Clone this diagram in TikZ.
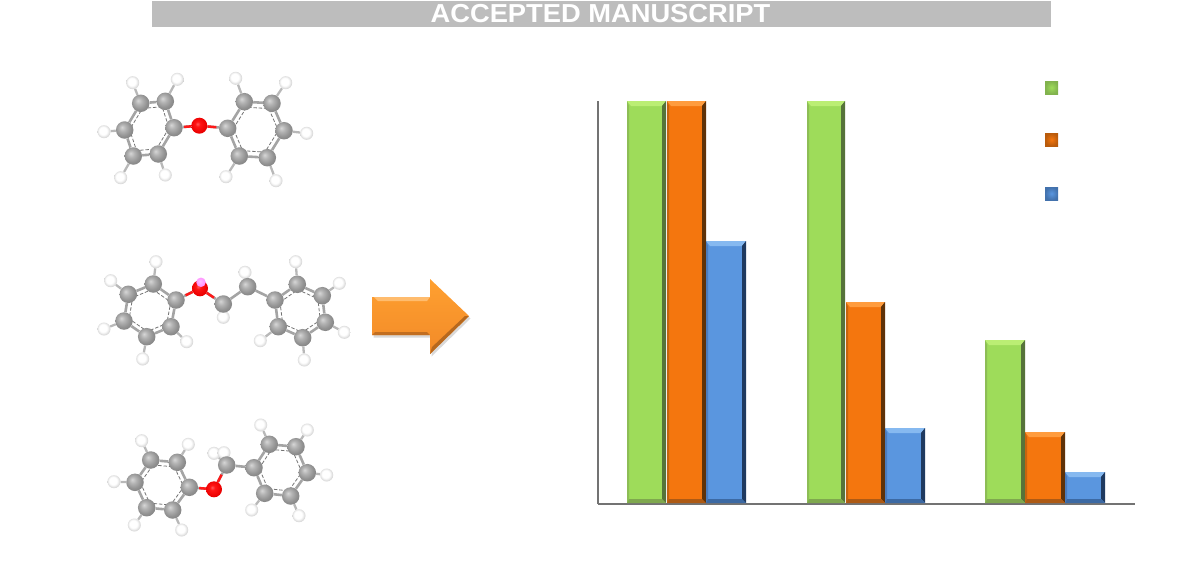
\documentclass[tikz,border=0pt]{standalone}
\usepackage{fontspec}
\setmainfont{Liberation Sans}
\usetikzlibrary{backgrounds,calc,shadows}

\definecolor{greenmain}{HTML}{9EDC5A}
\definecolor{greenlight}{HTML}{BBEE74}
\definecolor{greenside}{HTML}{56733A}
\definecolor{greenlow}{HTML}{7FA84E}
\definecolor{greenedge}{HTML}{8DBD56}
\definecolor{orangemain}{HTML}{F4760E}
\definecolor{orangelight}{HTML}{FF9C3E}
\definecolor{orangeside}{HTML}{5F3208}
\definecolor{orangelow}{HTML}{AD5A14}
\definecolor{orangeedge}{HTML}{C4640F}
\definecolor{bluemain}{HTML}{5A96DF}
\definecolor{bluelight}{HTML}{86B9F0}
\definecolor{blueside}{HTML}{1F3A60}
\definecolor{bluelow}{HTML}{3C69A3}
\definecolor{blueedge}{HTML}{4B7CBD}
\definecolor{bannergray}{HTML}{BDBDBD}
\definecolor{bondgray}{HTML}{A4A4A4}
\definecolor{arrowtop}{HTML}{FFA030}
\definecolor{arrowlow}{HTML}{F28A28}

\pgfdeclareradialshading{carbonball}{\pgfpoint{-8bp}{8bp}}{color(0bp)=(black!16); color(10bp)=(black!30); color(22bp)=(black!43); color(35bp)=(black!52); color(50bp)=(black!58)}
\pgfdeclareradialshading{hydrogenball}{\pgfpoint{-5bp}{5bp}}{color(0bp)=(white); color(15bp)=(white); color(25bp)=(black!15); color(33bp)=(black!34); color(50bp)=(black!40)}
\pgfdeclareradialshading{oxygenball}{\pgfpoint{-6bp}{6bp}}{color(0bp)=(red!65!white); color(8bp)=(red!92!white); color(25bp)=(red!92!black); color(35bp)=(red!75!black); color(50bp)=(red!65!black)}
\pgfdeclareradialshading{pinkball}{\pgfpoint{-6bp}{6bp}}{color(0bp)=(magenta!25!white); color(20bp)=(magenta!40!white); color(50bp)=(magenta!55!white)}

\tikzset{
  carbon/.style={circle,inner sep=0pt,minimum size=17.5pt,shade,shading=carbonball},
  hydrogen/.style={circle,inner sep=0pt,minimum size=13pt,shade,shading=hydrogenball},
  oxygen/.style={circle,inner sep=0pt,minimum size=16pt,shade,shading=oxygenball},
  pinkatom/.style={circle,inner sep=0pt,minimum size=9.5pt,shade,shading=pinkball},
  bondline/.style={draw=bondgray,line width=2.6pt},
  hbondline/.style={draw=black!28,line width=2.3pt},
  obondline/.style={draw=red!90,line width=2.5pt},
  innerring/.style={draw=black!55,line width=0.8pt,dash pattern=on 3.5pt off 1.8pt},
  axisline/.style={draw=black!55,line width=1.1pt}
}

\newcommand{\ringbonds}[6]{
\draw [bondline] (#1) -- (#2) -- (#3) -- (#4) -- (#5) -- (#6) -- (#1);
\coordinate (rc) at (barycentric cs:#1=1,#2=1,#3=1,#4=1,#5=1,#6=1);
\draw [innerring] ($(#1)!0.2!(rc)$) -- ($(#2)!0.2!(rc)$) -- ($(#3)!0.2!(rc)$) -- ($(#4)!0.2!(rc)$) -- ($(#5)!0.2!(rc)$) -- ($(#6)!0.2!(rc)$) -- cycle;
}

% x0, top, x1, bottom, colour name
\newcommand{\bevelbox}[6][4]{
\fill [#6main] (#2,#3) rectangle (#4,#5);
\fill [#6light] (#2,#3) -- (#4,#3) -- (#4-#1,#3+#1+1) -- (#2+#1,#3+#1+1) -- cycle;
\fill [#6edge] (#2,#3) -- (#2+#1*0.5,#3+#1+1) -- (#2+#1*0.5,#5-#1) -- (#2,#5) -- cycle;
\fill [#6side] (#4,#3) -- (#4-#1,#3+#1+1) -- (#4-#1,#5-#1) -- (#4,#5) -- cycle;
\fill [#6low] (#2,#5) -- (#2+#1*0.5,#5-#1) -- (#4-#1,#5-#1) -- (#4,#5) -- cycle;
}

\newcommand{\legendbox}[3]{
\fill [inner color=#3main,outer color=#3side!40!#3main] (#1,#2) rectangle (#1+13,#2+13);
}

\begin{document}
\begin{tikzpicture}[x=1pt,y=-1pt]
\useasboundingbox (0,0) rectangle (1203,587);

\fill [bannergray] (152,1) rectangle (1051,27);
\node (bannertext) at (600.5,14) [text=white,font=\bfseries\fontsize{26}{26}\selectfont,inner sep=0pt,xscale=1.05,transform shape] {ACCEPTED MANUSCRIPT};

\node [carbon] (a1) at (140.7,103.3) {};
\node [carbon] (a2) at (165.3,101.3) {};
\node [carbon] (a3) at (174,127.7) {};
\node [carbon] (a4) at (158.3,154) {};
\node [carbon] (a5) at (133.3,156) {};
\node [carbon] (a6) at (124.7,130) {};
\node [hydrogen] (ah1) at (132.7,82.7) {};
\node [hydrogen] (ah2) at (177.3,79.3) {};
\node [hydrogen] (ah4) at (165.3,175) {};
\node [hydrogen] (ah5) at (120.7,177.7) {};
\node [hydrogen] (ah6) at (104,131.7) {};
\node [oxygen] (ao) at (199.3,125.7) {};
\node [carbon] (b1) at (227.7,128.3) {};
\node [carbon] (b2) at (244.3,101.7) {};
\node [carbon] (b3) at (272,103.3) {};
\node [carbon] (b4) at (284,130.7) {};
\node [carbon] (b5) at (267.3,157.7) {};
\node [carbon] (b6) at (239.3,156) {};
\node [hydrogen] (bh2) at (235.7,78.3) {};
\node [hydrogen] (bh3) at (285.7,82.7) {};
\node [hydrogen] (bh4) at (306.7,133.3) {};
\node [hydrogen] (bh5) at (276,180.7) {};
\node [hydrogen] (bh6) at (226,176.7) {};

\node [carbon] (c1) at (153.3,284) {};
\node [carbon] (c2) at (176,300) {};
\node [carbon] (c3) at (171,326.7) {};
\node [carbon] (c4) at (146.7,336.7) {};
\node [carbon] (c5) at (124,321) {};
\node [carbon] (c6) at (128.3,294.3) {};
\node [hydrogen] (ch1) at (156,261.7) {};
\node [hydrogen] (ch3) at (186.7,341.7) {};
\node [hydrogen] (ch4) at (142.7,359) {};
\node [hydrogen] (ch5) at (104,329) {};
\node [hydrogen] (ch6) at (110.7,280.7) {};
\node [oxygen] (co) at (200,288.3) {};
\node [pinkatom] (cp) at (201,282.3) {};
\node [hydrogen] (eh1) at (223.3,317.3) {};
\node [carbon] (e1) at (223.3,304) {};
\node [hydrogen] (eh2) at (245,272.3) {};
\node [carbon] (e2) at (247.7,286.7) {};
\node [carbon] (d1) at (275,300) {};
\node [carbon] (d2) at (297.3,284.3) {};
\node [carbon] (d3) at (322.3,295.7) {};
\node [carbon] (d4) at (325.3,322.3) {};
\node [carbon] (d5) at (302.7,337.7) {};
\node [carbon] (d6) at (278.3,326.7) {};
\node [hydrogen] (dh2) at (295.7,261.7) {};
\node [hydrogen] (dh3) at (339.3,283.3) {};
\node [hydrogen] (dh4) at (344.3,332.3) {};
\node [hydrogen] (dh5) at (304.3,360) {};
\node [hydrogen] (dh6) at (260.3,340.7) {};

\node [carbon] (f1) at (150.7,460) {};
\node [carbon] (f2) at (177.3,462.3) {};
\node [carbon] (f3) at (189.3,487.3) {};
\node [carbon] (f4) at (172.7,510) {};
\node [carbon] (f5) at (146.7,507.7) {};
\node [carbon] (f6) at (135,482.3) {};
\node [hydrogen] (fh1) at (141.7,440.7) {};
\node [hydrogen] (fh2) at (188.3,444.3) {};
\node [hydrogen] (fh4) at (181.7,530) {};
\node [hydrogen] (fh5) at (134.3,525) {};
\node [hydrogen] (fh6) at (114,481.7) {};
\node [oxygen] (fo) at (214,489.3) {};
\node [hydrogen] (kh1) at (214,453.3) {};
\node [hydrogen] (kh2) at (224,452.7) {};
\node [carbon] (k1) at (226.7,465) {};
\node [carbon] (g1) at (254,467.7) {};
\node [carbon] (g2) at (269.3,444.3) {};
\node [carbon] (g3) at (296,446.7) {};
\node [carbon] (g4) at (307.3,472.7) {};
\node [carbon] (g5) at (290.7,496) {};
\node [carbon] (g6) at (264.7,493.3) {};
\node [hydrogen] (gh2) at (260.7,425) {};
\node [hydrogen] (gh3) at (307.3,430) {};
\node [hydrogen] (gh4) at (326.7,475) {};
\node [hydrogen] (gh5) at (299,515.7) {};
\node [hydrogen] (gh6) at (251.7,510) {};

\begin{scope}[on background layer]
\ringbonds{a1}{a2}{a3}{a4}{a5}{a6}
\ringbonds{b1}{b2}{b3}{b4}{b5}{b6}
\ringbonds{c1}{c2}{c3}{c4}{c5}{c6}
\ringbonds{d1}{d2}{d3}{d4}{d5}{d6}
\ringbonds{f1}{f2}{f3}{f4}{f5}{f6}
\ringbonds{g1}{g2}{g3}{g4}{g5}{g6}
\draw [hbondline] (a1) -- (ah1);
\draw [hbondline] (a2) -- (ah2);
\draw [hbondline] (a4) -- (ah4);
\draw [hbondline] (a5) -- (ah5);
\draw [hbondline] (a6) -- (ah6);
\draw [hbondline] (b2) -- (bh2);
\draw [hbondline] (b3) -- (bh3);
\draw [hbondline] (b4) -- (bh4);
\draw [hbondline] (b5) -- (bh5);
\draw [hbondline] (b6) -- (bh6);
\draw [hbondline] (c1) -- (ch1);
\draw [hbondline] (c3) -- (ch3);
\draw [hbondline] (c4) -- (ch4);
\draw [hbondline] (c5) -- (ch5);
\draw [hbondline] (c6) -- (ch6);
\draw [hbondline] (d2) -- (dh2);
\draw [hbondline] (d3) -- (dh3);
\draw [hbondline] (d4) -- (dh4);
\draw [hbondline] (d5) -- (dh5);
\draw [hbondline] (d6) -- (dh6);
\draw [hbondline] (f1) -- (fh1);
\draw [hbondline] (f2) -- (fh2);
\draw [hbondline] (f4) -- (fh4);
\draw [hbondline] (f5) -- (fh5);
\draw [hbondline] (f6) -- (fh6);
\draw [hbondline] (g2) -- (gh2);
\draw [hbondline] (g3) -- (gh3);
\draw [hbondline] (g4) -- (gh4);
\draw [hbondline] (g5) -- (gh5);
\draw [hbondline] (g6) -- (gh6);
\draw [hbondline] (e1) -- (eh1);
\draw [hbondline] (e2) -- (eh2);
\draw [hbondline] (k1) -- (kh1);
\draw [hbondline] (k1) -- (kh2);
\draw [bondline] (e1) -- (e2);
\draw [bondline] (e2) -- (d1);
\draw [bondline] (k1) -- (g1);
\draw [bondline] (a3) -- (ao);
\draw [bondline] (ao) -- (b1);
\draw [bondline] (c2) -- (co);
\draw [bondline] (co) -- (e1);
\draw [bondline] (f3) -- (fo);
\draw [bondline] (fo) -- (k1);
\draw [obondline] (ao) -- ($(ao)!0.6!(a3)$);
\draw [obondline] (ao) -- ($(ao)!0.6!(b1)$);
\draw [obondline] (co) -- ($(co)!0.6!(c2)$);
\draw [obondline] (co) -- ($(co)!0.6!(e1)$);
\draw [obondline] (fo) -- ($(fo)!0.6!(f3)$);
\draw [obondline] (fo) -- ($(fo)!0.6!(k1)$);
\end{scope}

\draw [top color=arrowtop,bottom color=arrowlow,draw=none,drop shadow={shadow xshift=1.5pt,shadow yshift=-2.5pt,opacity=0.3}] (372,297) -- (430,297) -- (430,279) -- (469,316) -- (430,354) -- (430,335) -- (372,335) -- cycle;
\fill [arrowtop!70!white] (374,297) -- (430,297) -- (427,301) -- (378,301) -- cycle;
\fill [arrowlow!80!black] (372,335) -- (430,335) -- (427,332) -- (375,332) -- cycle;
\fill [arrowlow!75!black] (430,354) -- (469,316) -- (465,316) -- (432,347) -- cycle;

\draw [axisline] (598,101) -- (598,504);
\draw [axisline] (598,504) -- (1135,504);

\bevelbox{627}{101}{666}{503}{green}
\bevelbox{667}{101}{706}{503}{orange}
\bevelbox{706}{241}{746}{503}{blue}
\bevelbox{807}{101}{845}{503}{green}
\bevelbox{846}{302}{885}{503}{orange}
\bevelbox{885}{428}{925}{503}{blue}
\bevelbox{985}{340}{1025}{503}{green}
\bevelbox{1025}{432}{1065}{503}{orange}
\bevelbox{1065}{472}{1105}{503}{blue}

\legendbox{1045}{81}{green}
\legendbox{1045}{133}{orange}
\legendbox{1045}{187}{blue}
\end{tikzpicture}
\end{document}
